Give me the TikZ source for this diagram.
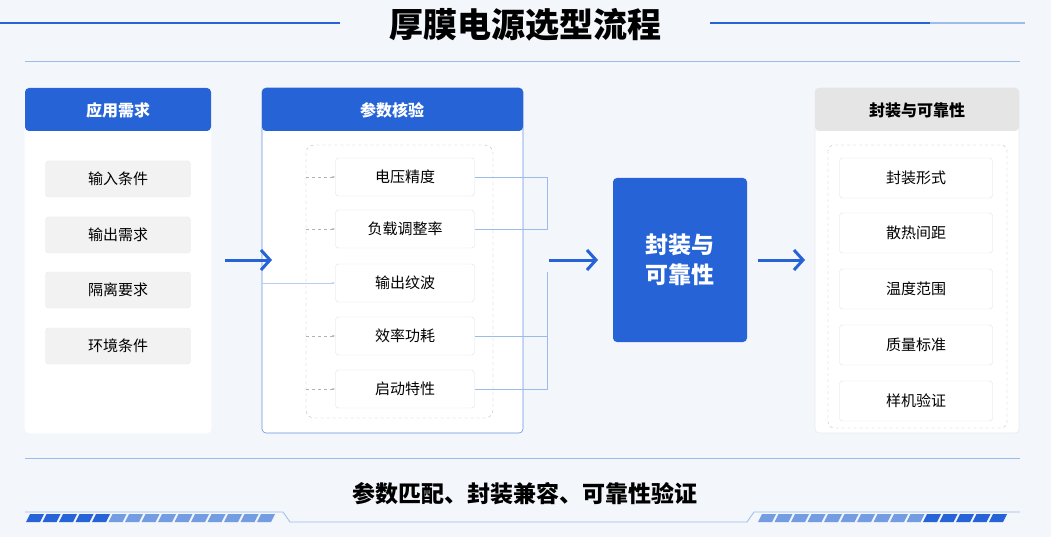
\documentclass[tikz,border=0pt]{standalone}
\usepackage{fontspec}
\newfontfamily\cjk{Noto Sans CJK SC}
\usetikzlibrary{arrows.meta}
\definecolor{mb}{HTML}{2563D6}
\definecolor{lb}{HTML}{9DBBEA}
\definecolor{bg}{HTML}{F3F6FA}
\begin{document}
\begin{tikzpicture}[x=1pt,y=-1pt,font=\cjk,
  panel/.style={draw=#1,fill=white,rounded corners=4pt,line width=0.6pt},
  litem/.style={draw=black!8,fill=black!5,rounded corners=3pt,minimum width=145pt,minimum height=36pt,font=\cjk\fontsize{15}{17}\selectfont},
  mitem/.style={draw=black!12,fill=white,rounded corners=3pt,minimum width=139pt,minimum height=38pt,font=\cjk\fontsize{15}{17}\selectfont},
  ritem/.style={draw=black!12,fill=white,rounded corners=3pt,minimum width=153pt,minimum height=40pt,font=\cjk\fontsize{15}{17}\selectfont},
  hd/.style={font=\cjk\fontsize{16}{18}\selectfont\bfseries},
  big/.style={-{Straight Barb[length=9pt,width=20pt]},draw=mb,line width=3pt},
  thin/.style={draw=lb,line width=0.8pt},
  dsh/.style={draw=black!30,dashed,line width=0.4pt,-{Latex[length=3pt]}}]
\useasboundingbox (0,0) rectangle (1051,537);
\fill[bg] (0,0) rectangle (1051,537);
% title
\node (title) at (525,25) {\fontsize{34}{38}\selectfont\bfseries 厚膜电源选型流程};
\draw[mb,line width=2.5pt] (0,23) -- (340,23);
\draw[mb,line width=2.5pt] (710,23) -- (930,23);
\draw[lb,line width=2.5pt] (930,23) -- (1025,23);
\draw[lb,line width=0.8pt] (25,61) -- (1020,61);
\draw[lb,line width=0.8pt] (25,458) -- (1020,458);
% panel 1
\draw[panel=white] (25,88) rectangle (211,433);
\fill[mb,rounded corners=4pt] (25,131) -- (25,88) -- (211,88) -- (211,131) -- cycle;
\node[text=white,hd] (h1) at (118,110) {应用需求};
\node[litem] (a1) at (118,179) {输入条件};
\node[litem] (a2) at (118,235) {输出需求};
\node[litem] (a3) at (118,290) {隔离要求};
\node[litem] (a4) at (118,346) {环境条件};
% panel 2
\draw[panel=mb!70] (262,88) rectangle (523,433);
\fill[mb,rounded corners=4pt] (262,131) -- (262,88) -- (523,88) -- (523,131) -- cycle;
\node[text=white,hd] (h2) at (392,110) {参数核验};
\draw[black!25,dashed,rounded corners=8pt] (306,145) rectangle (493,418);
\node[mitem] (b1) at (405,177) {电压精度};
\node[mitem] (b2) at (405,229) {负载调整率};
\node[mitem] (b3) at (405,283) {输出纹波};
\node[mitem] (b4) at (405,336) {效率功耗};
\node[mitem] (b5) at (405,389) {启动特性};
\foreach \n in {b1,b2,b4,b5} {\draw[dsh] (\n.west) ++(-29,0) coordinate (s\n) -- (\n.west);}
\coordinate (sb3) at (262,283);
\draw[thin,-{Latex[length=3pt]},draw=lb!70] (sb3) -- (b3.west);
\coordinate (j1) at (547,177); \coordinate (j2) at (547,229);
\coordinate (j3) at (547,272); \coordinate (j4) at (547,336); \coordinate (j5) at (547,389);
\draw[thin] (b1.east) -- (j1) -- (j2) -- (b2.east);
\draw[thin] (j3) -- (j5) -- (b5.east);
\draw[thin] (b4.east) -- (j4);
% arrows
\coordinate (p1) at (225,260); \coordinate (q1) at (272,260);
\draw[big] (p1) -- (q1);
\coordinate (p2) at (549,260); \coordinate (q2) at (598,260);
\draw[big] (p2) -- (q2);
\node[fill=mb,rounded corners=4pt,minimum width=134pt,minimum height=164pt,text=white,align=center,font=\cjk\fontsize{23}{30}\selectfont\bfseries] (c) at (680,260) {封装与\\可靠性};
\coordinate (p3) at (758,260); \coordinate (q3) at (805,260);
\draw[big] (p3) -- (q3);
% panel 3
\draw[panel=black!8] (815,88) rectangle (1019,433);
\fill[black!10,rounded corners=4pt] (815,131) -- (815,88) -- (1019,88) -- (1019,131) -- cycle;
\node[hd] (h3) at (917,110) {封装与可靠性};
\draw[black!25,dashed,rounded corners=6pt] (828,145) rectangle (1007,428);
\node[ritem] (r1) at (916,178) {封装形式};
\node[ritem] (r2) at (916,233) {散热间距};
\node[ritem] (r3) at (916,289) {温度范围};
\node[ritem] (r4) at (916,345) {质量标准};
\node[ritem] (r5) at (916,401) {样机验证};
% bottom
\node (foot) at (525,494) {\fontsize{23}{26}\selectfont\bfseries 参数匹配、封装兼容、可靠性验证};
\draw[lb,line width=0.8pt] (25,512) -- (283,512) -- (290,522) -- (747,522) -- (754,512) -- (1020,512);
\foreach \i in {0,...,14} {
  \pgfmathsetmacro{\t}{\i<5 ? 100 : 35}
  \fill[mb!\t!lb] ({30+\i*16.5},514) -- ({44+\i*16.5},514) -- ({40+\i*16.5},522) -- ({26+\i*16.5},522) -- cycle;
  \pgfmathsetmacro{\u}{\i>9 ? 100 : 35}
  \fill[mb!\u!lb] ({762+\i*16.5},514) -- ({776+\i*16.5},514) -- ({772+\i*16.5},522) -- ({758+\i*16.5},522) -- cycle;
}
\end{tikzpicture}
\end{document}
